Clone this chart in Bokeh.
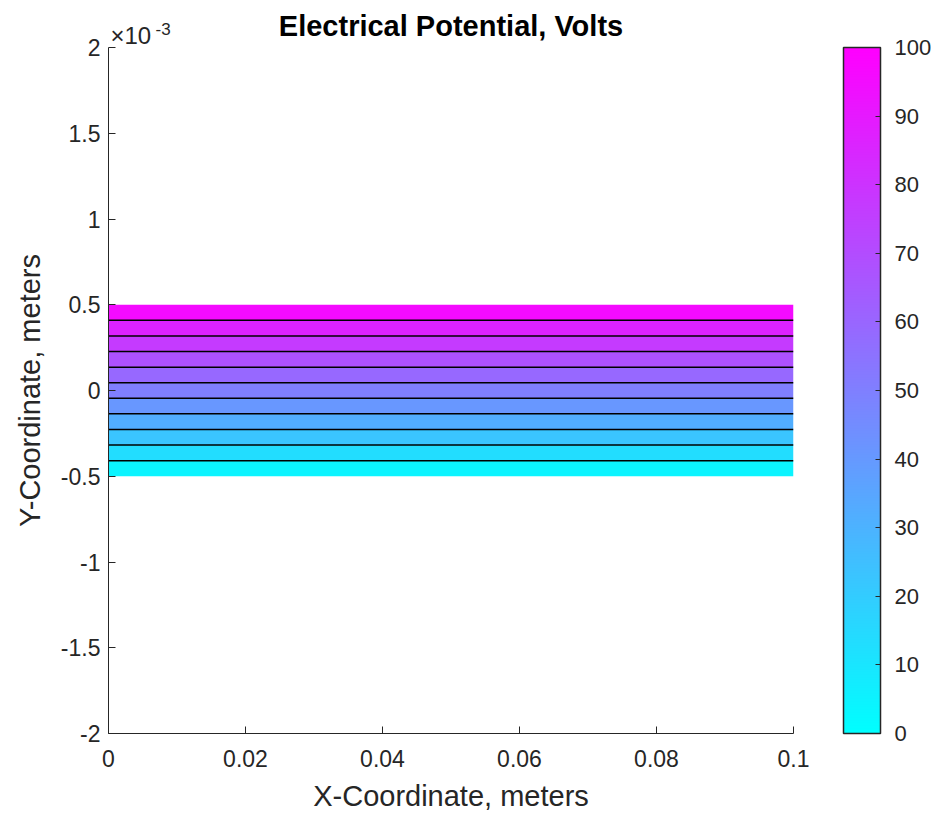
from bokeh.plotting import figure
from bokeh.models import (Range1d, FixedTicker, ColorBar, LinearColorMapper,
                          CustomJSTickFormatter, ColumnDataSource)
from bokeh.embed import file_html
from bokeh.resources import INLINE

# ---- data ----
x_extent = [0.0, 0.1]                       # strip spans x from 0 to 0.1 m
band_bottom = [-0.0005, -0.000409, -0.000318, -0.000227, -0.000136, -0.0000455,
               0.0000455, 0.000136, 0.000227, 0.000318, 0.000409]
band_top = [-0.000409, -0.000318, -0.000227, -0.000136, -0.0000455, 0.0000455,
            0.000136, 0.000227, 0.000318, 0.000409, 0.0005]
band_potential = [4.5, 13.6, 22.7, 31.8, 40.9, 50.0, 59.1, 68.2, 77.3, 86.4, 95.5]
contour_y = [-0.000409, -0.000318, -0.000227, -0.000136, -0.0000455,
             0.0000455, 0.000136, 0.000227, 0.000318, 0.000409]
x_ticks = [0, 0.02, 0.04, 0.06, 0.08, 0.1]
y_ticks = [-0.002, -0.0015, -0.001, -0.0005, 0, 0.0005, 0.001, 0.0015, 0.002]
cbar_ticks = [0, 10, 20, 30, 40, 50, 60, 70, 80, 90, 100]

# 'cool' colormap (cyan -> magenta)
cool = ['#%02x%02xff' % (i, 255 - i) for i in range(256)]
mapper = LinearColorMapper(palette=cool, low=0, high=100)

FONT = "Liberation Sans"
TXT = "#262626"

p = figure(frame_width=685, frame_height=686,
           x_range=Range1d(0, 0.1), y_range=Range1d(-0.002, 0.002),
           output_backend="svg", toolbar_location=None,
           min_border_left=108, min_border_top=47, min_border_bottom=83,
           min_border_right=141,
           title="Electrical Potential, Volts")
p.outline_line_color = None
p.grid.visible = False
p.background_fill_color = "white"

p.title.text_font = FONT
p.title.text_font_size = "29px"
p.title.text_font_style = "bold"
p.title.text_color = "black"
p.title.align = "center"
p.title.standoff = 12

band_src = ColumnDataSource(dict(left=[x_extent[0]] * len(band_bottom),
                                 right=[x_extent[1]] * len(band_bottom),
                                 bottom=band_bottom, top=band_top,
                                 v=band_potential))
p.quad(left="left", right="right", bottom="bottom", top="top", source=band_src,
       fill_color={"field": "v", "transform": mapper}, line_color=None)

line_src = ColumnDataSource(dict(x0=[x_extent[0]] * len(contour_y),
                                 x1=[x_extent[1]] * len(contour_y),
                                 y=contour_y))
p.segment(x0="x0", y0="y", x1="x1", y1="y", source=line_src,
          line_color="black", line_width=1.5)

for ax in (p.xaxis[0], p.yaxis[0]):
    ax.axis_line_color = TXT
    ax.major_tick_line_color = TXT
    ax.major_tick_in = 7
    ax.major_tick_out = 0
    ax.minor_tick_line_color = None
    ax.major_label_text_font = FONT
    ax.major_label_text_font_size = "23px"
    ax.major_label_text_color = TXT
    ax.axis_label_text_font = FONT
    ax.axis_label_text_font_size = "29px"
    ax.axis_label_text_font_style = "normal"
    ax.axis_label_text_color = TXT

p.xaxis.ticker = FixedTicker(ticks=x_ticks)
p.xaxis.formatter = CustomJSTickFormatter(code="return String(parseFloat(tick.toFixed(4)));")
p.xaxis.axis_label = "X-Coordinate, meters"
p.xaxis.major_label_standoff = 16
p.xaxis.axis_label_standoff = 10

p.yaxis.ticker = FixedTicker(ticks=y_ticks)
p.yaxis.formatter = CustomJSTickFormatter(code="return String(Math.round(tick*1e4)/10);")
p.yaxis.axis_label = "Y-Coordinate, meters"
p.yaxis.major_label_standoff = 8
p.yaxis.axis_label_standoff = 12


def text_box(text, size, loc):
    # an invisible colour bar used only to carry a title outside the frame
    tb = ColorBar(color_mapper=mapper, ticker=FixedTicker(ticks=[]),
                  orientation="horizontal",
                  width=1, height=1, margin=0, padding=0, location=loc,
                  scale_alpha=0, bar_line_color=None, border_line_color=None,
                  background_fill_color=None, background_fill_alpha=0,
                  major_tick_line_color=None, minor_tick_line_color=None,
                  major_label_text_alpha=0, major_label_text_font_size="1px",
                  label_standoff=0, title=text, title_standoff=0,
                  title_text_font=FONT, title_text_font_size=size,
                  title_text_font_style="normal", title_text_color=TXT)
    p.add_layout(tb, "center")


# axis exponent (x10^-3) above the y axis
text_box("\u00d710", "24px", (2, 684))
text_box("-3", "17px", (47, 698))

cb = ColorBar(color_mapper=mapper, ticker=FixedTicker(ticks=cbar_ticks),
              width=37, height=686, margin=0, padding=0, location=(735, 0),
              bar_line_color=TXT, bar_line_width=1.5,
              border_line_color=None, background_fill_color=None,
              major_tick_line_color=TXT, major_tick_in=5, major_tick_out=0,
              minor_tick_line_color=None, label_standoff=14,
              major_label_text_font=FONT, major_label_text_font_size="22px",
              major_label_text_color=TXT)
p.add_layout(cb, "center")

open("out.html", "w").write(file_html(p, INLINE))
